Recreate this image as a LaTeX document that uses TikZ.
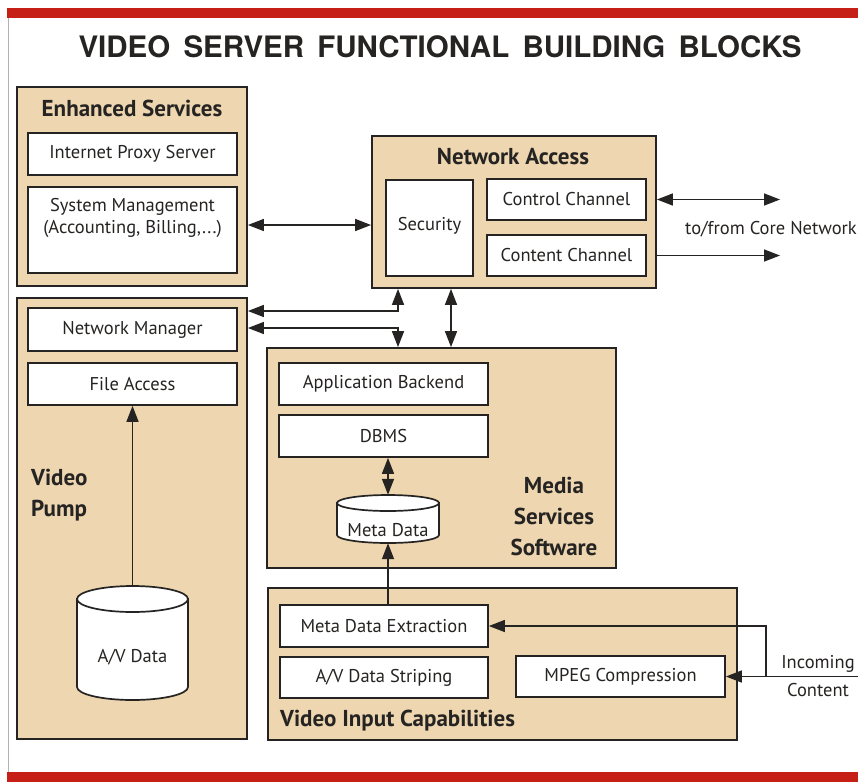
\documentclass[tikz,border=0pt]{standalone}
\usepackage{fontspec}
\setmainfont{PT Sans}
\newfontfamily\titlefont{TeX Gyre Heros}
\usetikzlibrary{arrows.meta,calc}
\definecolor{boxtan}{RGB}{237,214,176}
\definecolor{ink}{RGB}{38,36,34}
\definecolor{redbar}{RGB}{198,32,22}
\begin{document}
\begin{tikzpicture}[x=1pt,y=-1pt,
  group/.style={draw=ink, line width=1.8pt, fill=boxtan, inner sep=0pt},
  box/.style={draw=ink, line width=1.7pt, fill=white, inner sep=0pt, text=ink, font=\fontsize{18.5}{22}\selectfont},
  head/.style={font=\fontsize{23}{31}\selectfont\bfseries, text=ink, inner sep=0pt},
  lbl/.style={font=\fontsize{18.5}{28}\selectfont, text=ink, inner sep=0pt},
  arr/.style={draw=ink, line width=1.5pt, -{Triangle[length=16pt,width=12pt]}},
  darr/.style={draw=ink, line width=1.5pt, {Triangle[length=16pt,width=12pt]}-{Triangle[length=16pt,width=12pt]}},
  cyl/.style={draw=ink, line width=1.7pt, fill=white},
]
\useasboundingbox (0,0) rectangle (858,782);
\fill[white] (0,0) rectangle (858,782);
% frame
\fill[redbar] (7,8) rectangle (858,18);
\fill[redbar] (7,772) rectangle (858,782);
\draw[gray!60, line width=1pt] (8,18) -- (8,772);
% title
\node[font=\titlefont\fontsize{29.5}{32}\selectfont\bfseries, text=ink, inner sep=0pt] (title) at (440,47)
  {VIDEO\hspace{0.45em}SERVER\hspace{0.45em}FUNCTIONAL\hspace{0.45em}BUILDING\hspace{0.45em}BLOCKS};

% ---- Enhanced Services
\node[group, minimum width=230pt, minimum height=199pt] (enh) at (132,186.5) {};
\node[head] (enhT) at (132,108) {Enhanced Services};
\node[box, minimum width=209pt, minimum height=42pt] (proxy) at (132.5,154) {Internet Proxy Server};
\node[box, minimum width=209pt, minimum height=86pt] (sysm) at (132.5,230) {};
\node[lbl, align=center, font=\fontsize{18.5}{22.5}\selectfont] (sysmT) at (132.5,218) {System Management\\(Accounting, Billing,...)};

% ---- Network Access
\node[group, minimum width=284pt, minimum height=152pt] (net) at (514,212) {};
\node[head] (netT) at (513,157) {Network Access};
\node[box, minimum width=87pt, minimum height=96pt] (sec) at (429.5,228) {};
\node[lbl] (secT) at (429.5,226) {Security};
\node[box, minimum width=159pt, minimum height=41pt] (ctrl) at (566.5,199.5) {Control Channel};
\node[box, minimum width=159pt, minimum height=41pt] (cont) at (566.5,255.5) {Content Channel};
\coordinate (coreA) at (780,199.5);
\coordinate (coreB) at (780,255.5);
\node[lbl] (coreT) at (771,229) {to/from Core Network};

% ---- Video Pump
\node[group, minimum width=230pt, minimum height=441pt] (pump) at (132,518.5) {};
\node[box, minimum width=209pt, minimum height=43pt] (nmgr) at (132.5,329.5) {Network Manager};
\node[box, minimum width=209pt, minimum height=42pt] (facc) at (132.5,384) {File Access};
\node[head, align=left, anchor=west] (pumpT) at (31,495) {Video\\Pump};
% A/V Data cylinder
\node[minimum width=111pt, minimum height=114pt, inner sep=0pt] (av) at (132.5,643) {};
\path[cyl] (77,599) -- (77,687) arc[start angle=180, end angle=360, x radius=55.5pt, y radius=13pt] -- (188,599) -- cycle;
\draw[cyl] (132.5,599) ellipse[x radius=55.5pt, y radius=13pt];
\node[lbl] (avT) at (132.5,657) {A/V Data};

% ---- Media Services Software
\node[group, minimum width=349pt, minimum height=220pt] (media) at (441.5,458) {};
\node[box, minimum width=209pt, minimum height=42pt] (appb) at (383.5,384) {Application Backend};
\node[box, minimum width=209pt, minimum height=42pt] (dbms) at (383.5,436) {DBMS};
\node[head, align=center] (mediaT) at (554,516) {Media\\Services\\Software};
% Meta Data cylinder
\node[minimum width=102pt, minimum height=48pt, inner sep=0pt] (meta) at (388,519) {};
\path[cyl] (337,503) -- (337,535) arc[start angle=180, end angle=360, x radius=51pt, y radius=8pt] -- (439,503) -- cycle;
\draw[cyl] (388,503) ellipse[x radius=51pt, y radius=8pt];
\node[lbl] (metaT) at (388,530) {Meta Data};

% ---- Video Input Capabilities
\node[group, minimum width=469pt, minimum height=152pt] (vin) at (502.5,664) {};
\node[box, minimum width=208pt, minimum height=42pt] (mde) at (384,626) {Meta Data Extraction};
\node[box, minimum width=208pt, minimum height=41pt] (avs) at (384,677.5) {A/V Data Striping};
\node[box, minimum width=209pt, minimum height=41pt] (mpeg) at (620.5,676.5) {MPEG Compression};
\node[head, anchor=west] (vinT) at (280,721) {Video Input Capabilities};
\node[lbl, align=center, font=\fontsize{18.5}{28}\selectfont] (incT) at (818,676) {Incoming\\Content};
\coordinate (inc) at (858,676.5);
\coordinate (split) at (766,676.5);

% ---- connectors
\draw[darr] ([yshift=3pt]enh.east |- sec.center) -- ([yshift=3pt]net.west |- sec.center);
\draw[darr] (net.east |- ctrl.east) -- (coreA);
\draw[arr] (net.east |- cont.east) -- (coreB);
\coordinate (j1) at (398,311);
\coordinate (j2) at (398,328);
\coordinate (j3) at (451,318);
\draw[darr] (pump.east |- j1) -- (j1) -- (j1 |- net.south);
\draw[darr] (pump.east |- j2) -- (j2) -- (j2 |- media.north);
\draw[darr] (j3 |- net.south) -- (j3 |- media.north);
\draw[darr] (dbms.south -| meta.north) -- (meta.north);
\draw[arr] (mde.north -| meta.south) -- (meta.south);
\draw[arr] (av.north) -- (facc.south -| av.north);
\draw[arr] (inc) -- (mpeg.east |- inc);
\draw[arr] (split) -- (split |- mde.east) -- (mde.east);
\end{tikzpicture}
\end{document}
